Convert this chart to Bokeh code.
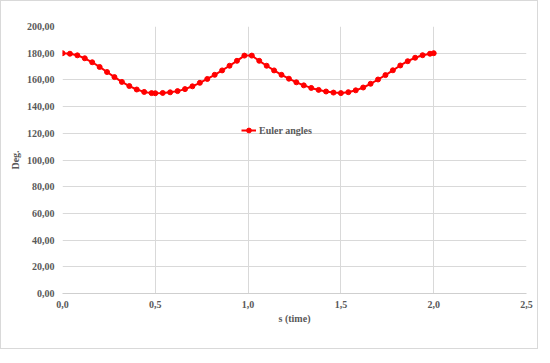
from bokeh.plotting import figure
from bokeh.models import FixedTicker, CustomJSTickFormatter, Legend, LegendItem, Range1d
from bokeh.embed import file_html
from bokeh.resources import INLINE

# Data
time_s = [0.00, 0.04, 0.08, 0.12, 0.16, 0.20, 0.24, 0.28, 0.32, 0.36, 0.40, 0.44, 0.48, 0.50,
          0.54, 0.58, 0.62, 0.66, 0.70, 0.74, 0.78, 0.82, 0.86, 0.90, 0.94, 0.98,
          1.02, 1.06, 1.10, 1.14, 1.18, 1.22, 1.26, 1.30, 1.34, 1.38, 1.42, 1.46, 1.50,
          1.54, 1.58, 1.62, 1.66, 1.70, 1.74, 1.78, 1.82, 1.86, 1.90, 1.94, 1.98, 2.00]
euler_deg = [180.0, 179.6, 178.4, 176.2, 173.2, 169.7, 165.9, 162.1, 158.5, 155.4, 152.8, 151.0, 150.1, 150.0,
             150.2, 150.7, 151.6, 153.1, 155.2, 157.8, 160.7, 163.8, 167.1, 170.6, 174.3, 178.2,
             178.2, 174.3, 170.6, 167.1, 163.8, 160.9, 158.2, 155.9, 154.0, 152.5, 151.3, 150.5, 150.1,
             150.8, 152.2, 154.3, 157.1, 160.3, 163.6, 167.2, 170.8, 174.0, 176.6, 178.5, 179.6, 180.0]
x_ticks = [0.0, 0.5, 1.0, 1.5, 2.0, 2.5]
y_ticks = [0, 20, 40, 60, 80, 100, 120, 140, 160, 180, 200]
series_name = "Euler angles"
x_title = "s (time)"
y_title = "Deg."

FONT = "Liberation Serif"
TXT = "#595959"
GRID = "#d9d9d9"

p = figure(width=538, height=349, output_backend="svg", toolbar_location=None,
           x_range=Range1d(0, 2.5), y_range=Range1d(0, 200),
           min_border_left=61, min_border_right=13, min_border_top=25, min_border_bottom=57)
p.styles = {"border": "1px solid #d9d9d9"}
p.outline_line_color = None
p.background_fill_color = "white"
p.border_fill_color = "white"

line = p.line(time_s, euler_deg, line_color="#ff0000", line_width=2)
pts = p.scatter(time_s, euler_deg, marker="circle", size=5, fill_color="#ff0000", line_color="#ff0000")

# axes
p.xaxis.ticker = FixedTicker(ticks=x_ticks)
p.yaxis.ticker = FixedTicker(ticks=y_ticks)
p.xaxis.formatter = CustomJSTickFormatter(code="return tick.toFixed(1).replace('.', ',');")
p.yaxis.formatter = CustomJSTickFormatter(code="return tick.toFixed(2).replace('.', ',');")
for ax in (p.xaxis, p.yaxis):
    ax.major_tick_line_color = None
    ax.minor_tick_line_color = None
    ax.major_tick_out = 0
    ax.major_tick_in = 0
    ax.minor_tick_out = 0
    ax.minor_tick_in = 0
    ax.major_label_text_font = FONT
    ax.major_label_text_font_style = "bold"
    ax.major_label_text_font_size = "10px"
    ax.major_label_text_color = TXT
    ax.axis_label_text_font = FONT
    ax.axis_label_text_font_style = "bold"
    ax.axis_label_text_font_size = "10px"
    ax.axis_label_text_color = TXT
p.yaxis.axis_line_color = None
p.xaxis.axis_line_color = "#cfcfcf"
p.xaxis.major_label_standoff = 7
p.yaxis.major_label_standoff = 8
p.xaxis.axis_label = x_title
p.yaxis.axis_label = y_title
p.xaxis.axis_label_standoff = 2
p.yaxis.axis_label_standoff = 3

p.xgrid.grid_line_color = GRID
p.ygrid.grid_line_color = GRID

legend = Legend(items=[LegendItem(label=series_name, renderers=[line, pts])],
                location=(179, 157), padding=0, margin=0, spacing=0,
                glyph_width=15, glyph_height=12, label_standoff=3,
                border_line_color=None, background_fill_alpha=0)
legend.label_text_font = FONT
legend.label_text_font_style = "bold"
legend.label_text_font_size = "10px"
legend.label_text_color = TXT
p.add_layout(legend, "center")

open("out.html", "w").write(file_html(p, INLINE))
